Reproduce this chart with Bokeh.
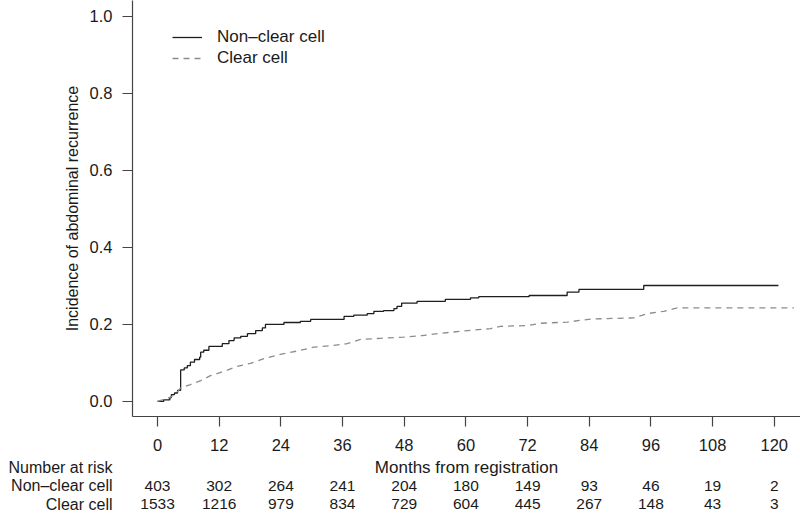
from bokeh.plotting import figure
from bokeh.layouts import column
from bokeh.models import Range1d, FixedTicker, PrintfTickFormatter, ColumnDataSource
from bokeh.core.properties import value
from bokeh.embed import file_html
from bokeh.resources import INLINE

# ---- data ----
month_ticks = [0, 12, 24, 36, 48, 60, 72, 84, 96, 108, 120]
inc_ticks = [0.0, 0.2, 0.4, 0.6, 0.8, 1.0]

nonclear_month = [0, 1.2, 2.4, 2.7, 3.3, 3.9, 4.5, 5.2, 5.8, 6.4, 7.2, 8.2, 8.4, 9.0, 10.0,
                  12.6, 13.9, 14.9, 16.2, 17.5, 19.1, 20.4, 21.0, 24.6, 27.8, 29.8, 36.3,
                  38.2, 40.8, 42.1, 44.0, 46.0, 46.6, 47.5, 50.5, 56.0, 60.9, 62.5, 72.3,
                  79.7, 82.0, 94.6, 120.8]
nonclear_inc = [0.000, 0.004, 0.010, 0.018, 0.022, 0.029, 0.082, 0.087, 0.093, 0.102, 0.109,
                0.115, 0.128, 0.133, 0.143, 0.150, 0.158, 0.165, 0.169, 0.176, 0.184, 0.191,
                0.200, 0.205, 0.208, 0.213, 0.221, 0.224, 0.228, 0.234, 0.236, 0.241, 0.247,
                0.255, 0.260, 0.265, 0.269, 0.272, 0.275, 0.284, 0.291, 0.301, 0.301]

clear_month = [0, 2.5, 3.8, 4.5, 6.4, 8.4, 10.3, 12.9, 15.5, 18.1, 20.7, 23.9, 27.2, 30.4,
               33.7, 36.9, 39.5, 43.4, 47.9, 51.5, 55.1, 60.3, 64.8, 66.7, 71.9, 74.5, 79.7,
               84.3, 92.7, 95.3, 98.5, 101.1, 123.8]
clear_inc = [0.000, 0.011, 0.024, 0.035, 0.044, 0.054, 0.067, 0.078, 0.091, 0.099, 0.111,
             0.122, 0.131, 0.141, 0.145, 0.150, 0.161, 0.164, 0.167, 0.171, 0.177, 0.184,
             0.189, 0.195, 0.197, 0.203, 0.206, 0.214, 0.217, 0.228, 0.234, 0.243, 0.243]

table_rows = ["Clear cell", "Non\u2013clear cell", "Number at risk"]
nonclear_risk = [403, 302, 264, 241, 204, 180, 149, 93, 46, 19, 2]
clear_risk = [1533, 1216, 979, 834, 729, 604, 445, 267, 148, 43, 3]
x_title = "Months from registration"
y_title = "Incidence of abdominal recurrence"

FONT = "Liberation Sans"
TXT = "#1a1a1a"
AX = "#444444"

xr = Range1d(-4.865, 125.1)

p = figure(width=800, height=457, output_backend="svg", toolbar_location=None,
           x_range=xr, y_range=Range1d(-0.039, 1.0407),
           min_border_left=132, min_border_right=0, min_border_top=0, min_border_bottom=41)
p.outline_line_color = None
p.xgrid.visible = False
p.ygrid.visible = False

# curves
p.step(nonclear_month, nonclear_inc, mode="after", line_color="#1e1e1e", line_width=1.3,
       legend_label="Non\u2013clear cell")
p.line(clear_month, clear_inc, line_color="#8c8c8c", line_width=1.3, line_dash="6 5",
       legend_label="Clear cell")

# axes
for ax in (p.xaxis[0], p.yaxis[0]):
    ax.axis_line_color = AX
    ax.axis_line_width = 1.2
    ax.major_tick_line_color = AX
    ax.major_tick_line_width = 1.2
    ax.major_tick_in = 0
    ax.major_tick_out = 10
    ax.minor_tick_line_color = None
    ax.major_label_text_font = FONT
    ax.major_label_text_font_size = "16.5px"
    ax.major_label_text_color = TXT
    ax.axis_label_text_font = FONT
    ax.axis_label_text_font_style = "normal"
    ax.axis_label_text_color = TXT

p.xaxis.ticker = FixedTicker(ticks=month_ticks)
p.xaxis.major_label_standoff = 12

p.yaxis.ticker = FixedTicker(ticks=inc_ticks)
p.yaxis.formatter = PrintfTickFormatter(format="%.1f")
p.yaxis.major_label_standoff = 10
p.yaxis.axis_label = y_title
p.yaxis.axis_label_text_font_size = "16px"
p.yaxis.axis_label_standoff = 6

# legend
lg = p.legend[0]
lg.location = (40, 348)
lg.border_line_color = None
lg.background_fill_alpha = 0
lg.padding = 0
lg.margin = 0
lg.spacing = 1
lg.glyph_width = 30
lg.glyph_height = 20
lg.label_standoff = 15
lg.label_text_font = FONT
lg.label_text_font_size = "17px"
lg.label_text_color = TXT

# ---- risk table (shares the x range) ----
t = figure(width=800, height=56, output_backend="svg", toolbar_location=None,
           x_range=xr, y_range=Range1d(-0.4865, 2.5405), x_axis_location=None,
           min_border_left=132, min_border_right=0, min_border_top=0, min_border_bottom=0)
t.outline_line_color = None
t.xgrid.visible = False
t.ygrid.visible = False
t.yaxis.ticker = FixedTicker(ticks=[0, 1, 2])
t.yaxis.major_label_overrides = {i: name for i, name in enumerate(table_rows)}
t.yaxis.axis_line_color = None
t.yaxis.major_tick_line_color = None
t.yaxis.minor_tick_line_color = None
t.yaxis.major_tick_out = 0
t.yaxis.major_tick_in = 0
t.yaxis.major_label_standoff = 20
t.yaxis.major_label_text_font = FONT
t.yaxis.major_label_text_font_size = "16px"
t.yaxis.major_label_text_color = TXT

for row, counts in ((1, nonclear_risk), (0, clear_risk)):
    src = ColumnDataSource(dict(x=month_ticks, y=[row] * len(month_ticks),
                                t=[str(c) for c in counts]))
    t.text(x="x", y="y", text="t", source=src, text_align="center", text_baseline="middle",
           text_font=value(FONT), text_font_size=value("15.5px"), text_color=TXT)

t.text(x=[(xr.start + xr.end) / 2], y=[2], text=[x_title], text_align="center",
       text_baseline="middle", text_font=value(FONT), text_font_size=value("17px"),
       text_color=TXT)

open("out.html", "w").write(file_html(column(p, t), INLINE))
